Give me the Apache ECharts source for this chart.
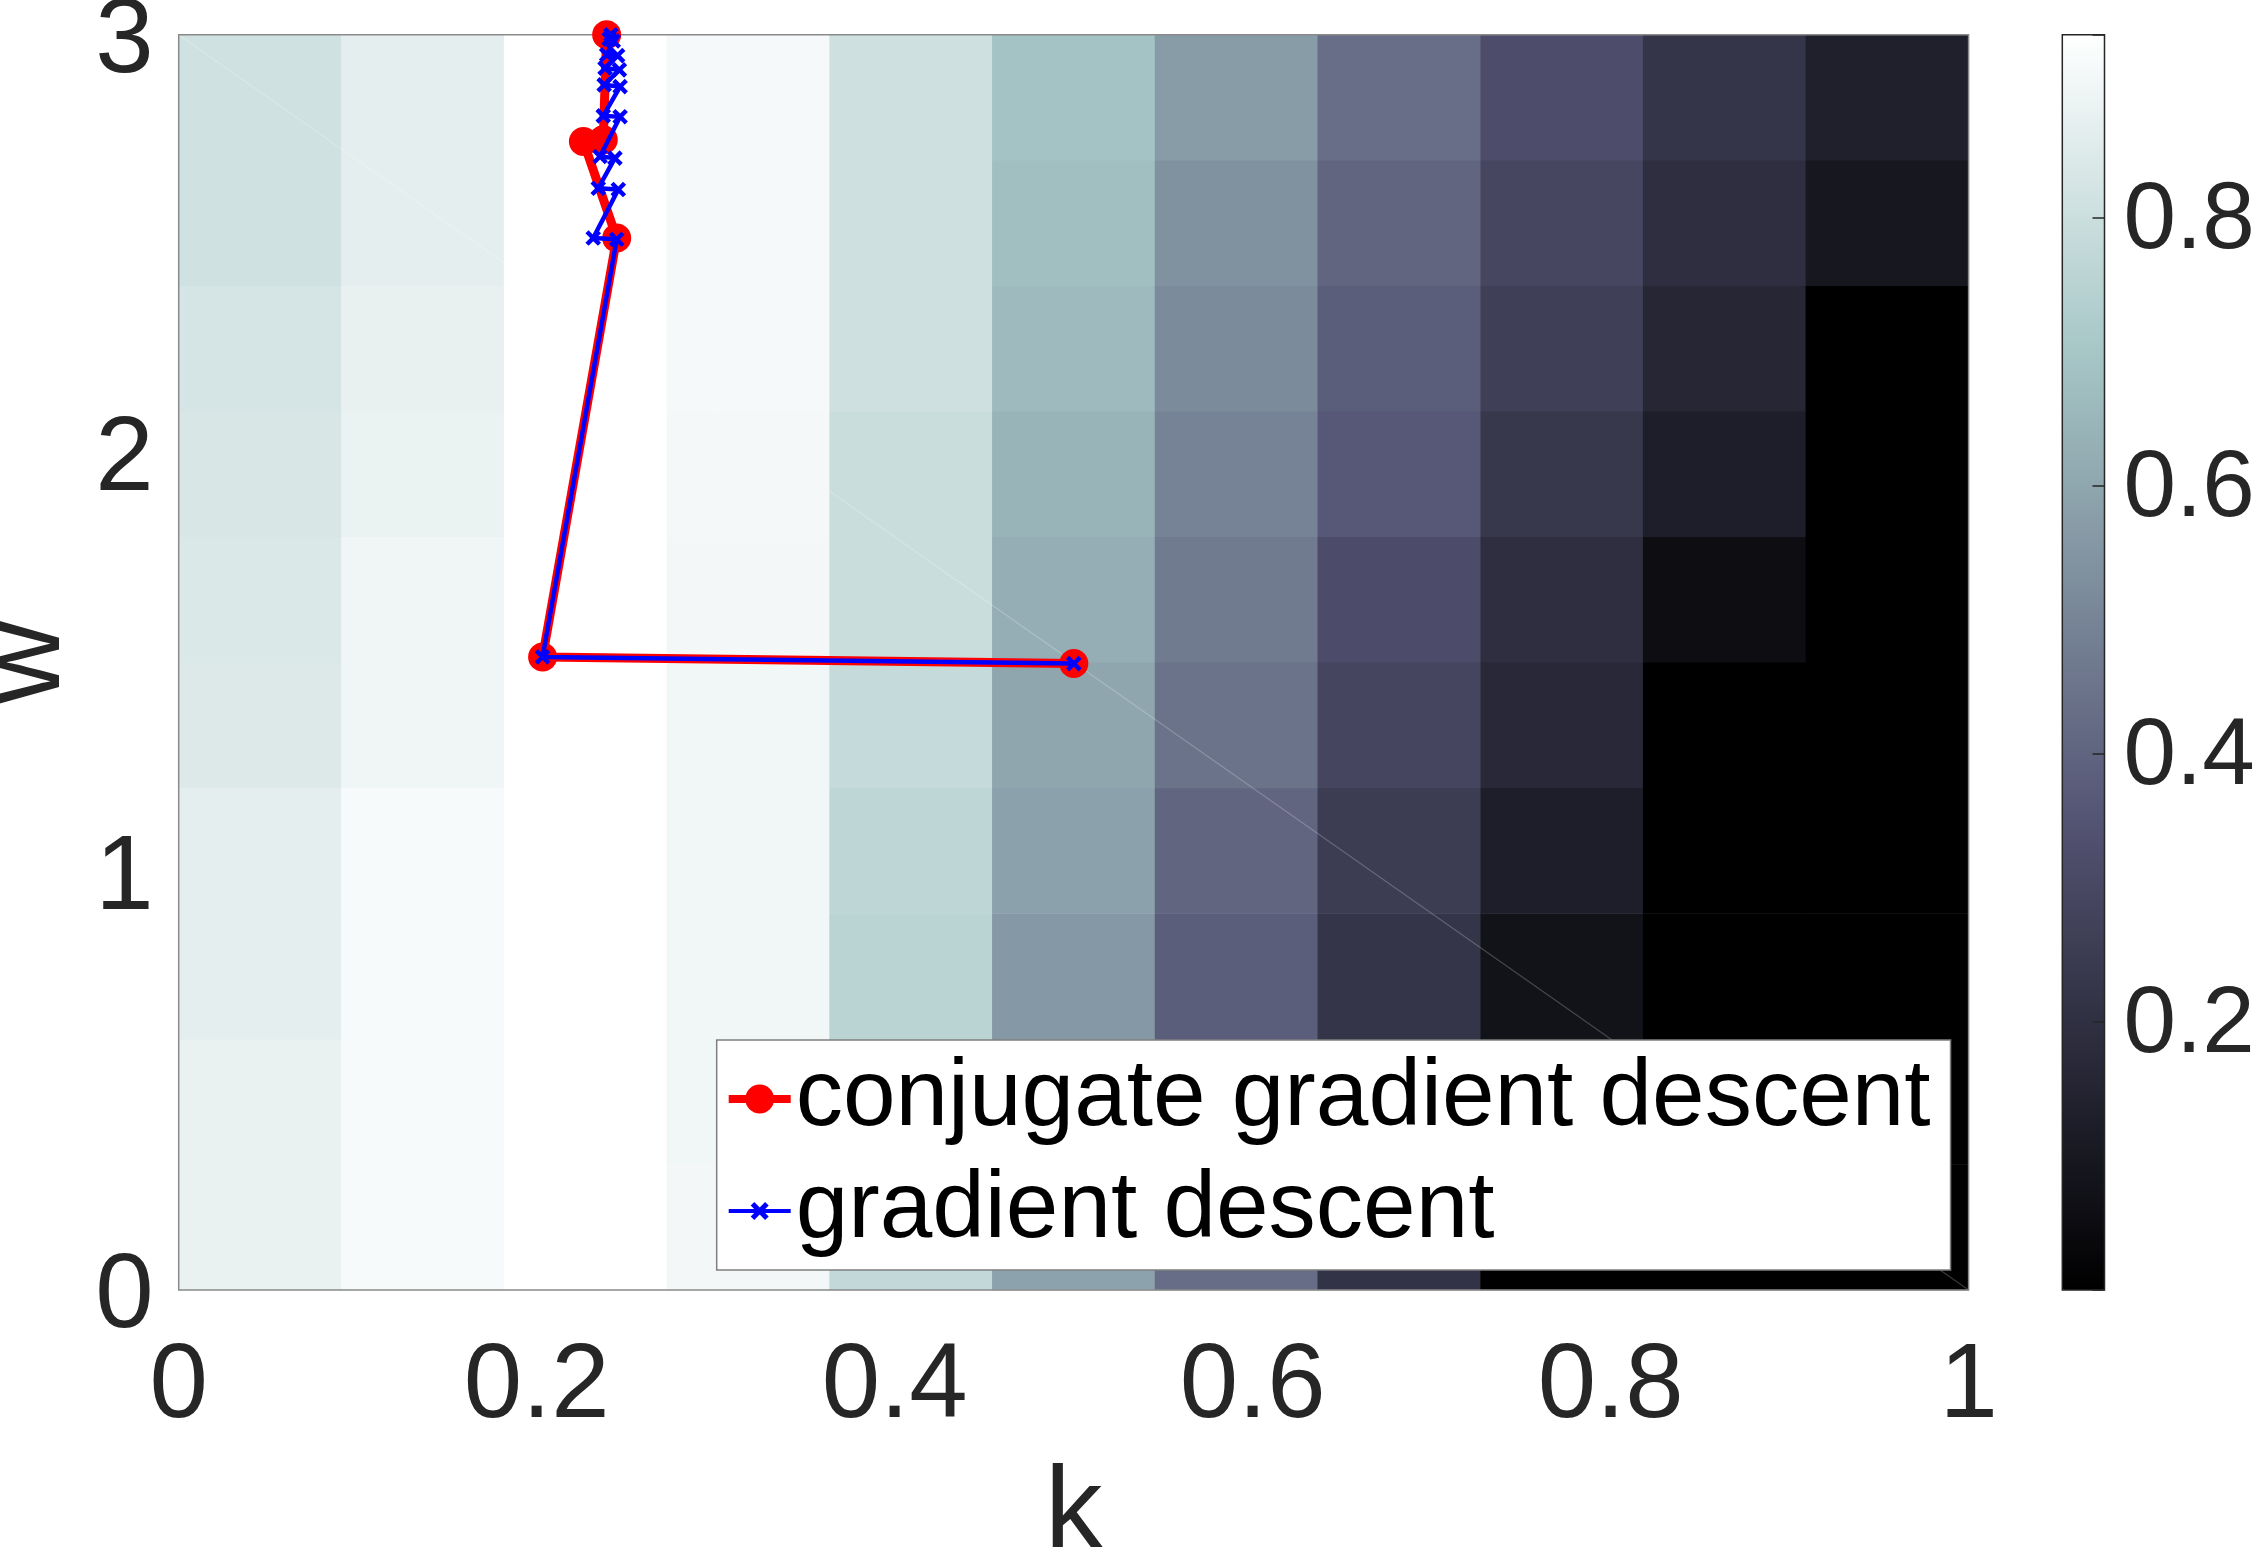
<!DOCTYPE html>
<html><head><meta charset="utf-8">
<script src="https://cdn.jsdelivr.net/npm/echarts@6/dist/echarts.min.js"></script>
<style>html,body{margin:0;padding:0;background:#fff}#c{width:2260px;height:1557px}</style>
</head><body><div id="c"></div>
<script>
// ---- data ----
const kBins = ['0', '0.091', '0.182', '0.273', '0.364', '0.455', '0.545', '0.636', '0.727', '0.818', '0.909'];
const wBins = ['0', '0.3', '0.6', '0.9', '1.2', '1.5', '1.8', '2.1', '2.4', '2.7'];
// cell values, one array per w-row (bottom to top), 11 k-columns each
const z_w00 = [0.878, 0.916, 0.937, 0.904, 0.778, 0.588, 0.429, 0.215, 0.002, 0.002, 0.002];
const z_w03 = [0.878, 0.916, 0.937, 0.901, 0.759, 0.562, 0.394, 0.216, 0.028, 0.002, 0.002];
const z_w06 = [0.864, 0.916, 0.937, 0.900, 0.752, 0.559, 0.382, 0.223, 0.076, 0.002, 0.002];
const z_w09 = [0.864, 0.916, 0.937, 0.900, 0.765, 0.585, 0.404, 0.252, 0.126, 0.002, 0.002];
const z_w12 = [0.846, 0.897, 0.937, 0.900, 0.782, 0.601, 0.446, 0.290, 0.168, 0.002, 0.002];
const z_w15 = [0.839, 0.897, 0.937, 0.904, 0.795, 0.626, 0.471, 0.320, 0.193, 0.054, 0.002];
const z_w18 = [0.832, 0.881, 0.937, 0.909, 0.795, 0.643, 0.496, 0.365, 0.235, 0.126, 0.002];
const z_w21 = [0.824, 0.876, 0.937, 0.912, 0.807, 0.664, 0.521, 0.382, 0.264, 0.159, 0.002];
const z_w24 = [0.813, 0.866, 0.937, 0.912, 0.807, 0.677, 0.538, 0.404, 0.294, 0.193, 0.097];
const z_w27 = [0.813, 0.866, 0.937, 0.912, 0.807, 0.690, 0.572, 0.433, 0.323, 0.223, 0.134];
const zRows = [z_w00, z_w03, z_w06, z_w09, z_w12, z_w15, z_w18, z_w21, z_w24, z_w27];
const colorRange = [0, 0.937];
const colorTicks = [0.2, 0.4, 0.6, 0.8];
// trajectories
const cgK = [0.5001, 0.2033, 0.2447, 0.2261, 0.2372, 0.2391];
const cgW = [1.497, 1.513, 2.514, 2.745, 2.749, 3.0];
const gdK = [0.5001, 0.2033, 0.2447, 0.2316, 0.2456, 0.2344, 0.2437, 0.2354, 0.2466, 0.2372, 0.2466, 0.2377, 0.2462, 0.2382, 0.2452, 0.2391, 0.2428, 0.2405, 0.2415];
const gdW = [1.497, 1.513, 2.511, 2.514, 2.630, 2.633, 2.705, 2.709, 2.804, 2.806, 2.876, 2.880, 2.916, 2.920, 2.950, 2.952, 2.985, 2.990, 3.0];
// faint facet edge of the surface rendering
const facetK = [0, 1];
const facetW = [3, 0];
// bone colormap sampled at 1/8 steps
const boneColors = ['#000000', '#1c1c27', '#38384d', '#545474', '#707a8f', '#8ba1ab', '#a7c7c7', '#d3e3e3', '#ffffff'];

// ---- build ----
const heat = [];
zRows.forEach((row, j) => row.forEach((v, i) => heat.push([i, j, v])));
const zip = (a, b) => a.map((x, i) => [x, b[i]]);
const FONT = '"Liberation Sans", Arial, Helvetica, sans-serif';
const plot = {left: 178.7, top: 34.7, width: 1789.9, height: 1255.3, containLabel: false, outerBoundsMode: 'none'};
const cbar = {left: 2062.3, top: 34.7, width: 42.2, height: 1255.3, containLabel: false, outerBoundsMode: 'none'};
const xPath = 'path://M-3,-3L-3,-3ZM13,13L13,13ZM2,0L5,3L8,0L10,2L7,5L10,8L8,10L5,7L2,10L0,8L3,5L0,2Z';

const chart = echarts.init(document.getElementById('c'), null, {renderer: 'canvas'});
chart.setOption({
  animation: false,
  grid: [
    Object.assign({show: false}, plot),
    Object.assign({show: true, borderColor: '#8a8a8a', borderWidth: 1.5, backgroundColor: 'transparent', z: 3}, plot),
    Object.assign({show: true, borderColor: '#262626', borderWidth: 1.5, backgroundColor: 'transparent', z: 10}, cbar)
  ],
  xAxis: [
    {gridIndex: 0, type: 'category', data: kBins, show: false},
    {gridIndex: 1, type: 'value', min: 0, max: 1, interval: 0.2,
      axisLine: {show: false, onZero: false}, axisTick: {show: false}, splitLine: {show: false},
      axisLabel: {fontSize: 105, color: '#262626', fontFamily: FONT, margin: 46},
      name: 'k', nameLocation: 'middle', nameGap: 167,
      nameTextStyle: {fontSize: 115, color: '#262626', fontFamily: FONT}},
    {gridIndex: 2, type: 'value', min: 0, max: 1, show: false}
  ],
  yAxis: [
    {gridIndex: 0, type: 'category', data: wBins, show: false},
    {gridIndex: 1, type: 'value', min: 0, max: 3, interval: 1,
      axisLine: {show: false, onZero: false}, axisTick: {show: false}, splitLine: {show: false},
      axisLabel: {fontSize: 105, color: '#262626', fontFamily: FONT, margin: 25, verticalAlign: 'top', lineHeight: 16},
      name: 'w', nameLocation: 'middle', nameGap: 86,
      nameTextStyle: {fontSize: 115, color: '#262626', fontFamily: FONT}},
    {gridIndex: 2, type: 'value', min: colorRange[0], max: colorRange[1], interval: 0.2, position: 'right', z: 11,
      axisLine: {show: false, onZero: false}, splitLine: {show: false},
      axisTick: {show: true, inside: true, length: 12, lineStyle: {color: '#262626', width: 1.5}},
      axisLabel: {fontSize: 94.5, color: '#262626', fontFamily: FONT, margin: 19, verticalAlign: 'top', lineHeight: 8,
        formatter: v => colorTicks.some(t => Math.abs(t - v) < 1e-6) ? v.toFixed(1) : ''}}
  ],
  visualMap: {
    type: 'continuous', min: colorRange[0], max: colorRange[1], seriesIndex: 0,
    calculable: false, orient: 'vertical', align: 'left', left: cbar.left, top: cbar.top,
    itemWidth: cbar.width, itemHeight: cbar.height, padding: 0, hoverLink: false,
    inRange: {color: boneColors}, z: 4
  },
  legend: {
    data: [
      {name: 'conjugate gradient descent', lineStyle: {width: 8}},
      {name: 'gradient descent', lineStyle: {width: 4}}
    ],
    orient: 'vertical', left: 716.7, top: 1040, padding: [3, 20, 3, 8], itemGap: 0,
    itemWidth: 62, itemHeight: 36, backgroundColor: '#ffffff', borderColor: '#7f7f7f', borderWidth: 1.5,
    textStyle: {fontSize: 94.5, color: '#000000', fontFamily: FONT, lineHeight: 112},
    selectedMode: false, z: 20
  },
  series: [
    {type: 'heatmap', xAxisIndex: 0, yAxisIndex: 0, data: heat, z: 1, silent: true, emphasis: {disabled: true}},
    {name: 'facet', type: 'line', xAxisIndex: 1, yAxisIndex: 1, data: zip(facetK, facetW), symbol: 'none',
      lineStyle: {color: 'rgba(255,255,255,0.22)', width: 1.2}, silent: true, z: 2},
    {name: 'conjugate gradient descent', type: 'line', xAxisIndex: 1, yAxisIndex: 1, data: zip(cgK, cgW),
      symbol: 'circle', symbolSize: 29, itemStyle: {color: '#ff0000'}, lineStyle: {color: '#ff0000', width: 9}, z: 4},
    {name: 'gradient descent', type: 'line', xAxisIndex: 1, yAxisIndex: 1, data: zip(gdK, gdW),
      symbol: xPath, symbolSize: 25, itemStyle: {color: '#0000ff'}, lineStyle: {color: '#0000ff', width: 4.5}, z: 5}
  ]
});
</script></body></html>
